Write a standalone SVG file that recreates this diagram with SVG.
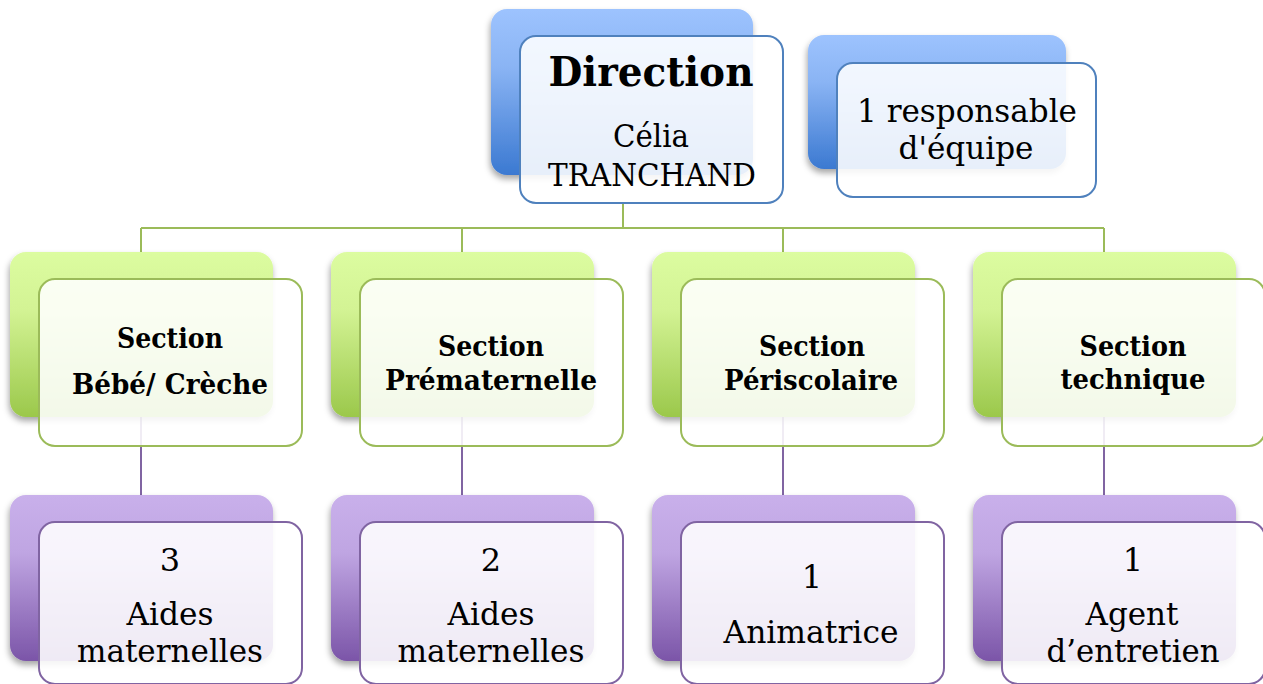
<svg xmlns="http://www.w3.org/2000/svg" width="1263" height="684" viewBox="0 0 1263 684">
<defs>
<linearGradient id="gBlue" x1="0" y1="0" x2="0" y2="1"><stop offset="0" stop-color="#9dc3fe"/><stop offset="0.35" stop-color="#8ab4f4"/><stop offset="1" stop-color="#3b79d1"/></linearGradient>
<linearGradient id="gGreen" x1="0" y1="0" x2="0" y2="1"><stop offset="0" stop-color="#dcfca0"/><stop offset="0.35" stop-color="#d3f394"/><stop offset="1" stop-color="#9bc84b"/></linearGradient>
<linearGradient id="gPurple" x1="0" y1="0" x2="0" y2="1"><stop offset="0" stop-color="#c9b0eb"/><stop offset="0.35" stop-color="#bfa5e2"/><stop offset="1" stop-color="#7b55a8"/></linearGradient>
<filter id="sh" x="-10%" y="-10%" width="125%" height="130%"><feDropShadow dx="-1" dy="4" stdDeviation="3" flood-color="#000" flood-opacity="0.35"/></filter>
<style>
.back{filter:url(#sh)}
.front{fill:#ffffff;fill-opacity:0.88;stroke-width:2}
.fb{stroke:#4f81bd}
.fg{stroke:#9bbb59}
.fp{stroke:#8064a2}
.t{font-family:"DejaVu Serif","Liberation Serif",serif;font-size:32px;fill:#000;text-anchor:middle}
.b{font-family:"DejaVu Serif","Liberation Serif",serif;font-weight:bold;font-size:28px;fill:#000;text-anchor:middle}
.h{font-family:"DejaVu Serif","Liberation Serif",serif;font-weight:bold;font-size:41px;fill:#000;text-anchor:middle}
.cg{stroke:#9bbb59;stroke-width:2;fill:none}
.cp{stroke:#8064a2;stroke-width:2;fill:none}
</style>
</defs>
<g id="connectors">
<path class="cg" d="M623 203V228M141 228H1104M141 228V252M462 228V252M783 228V252M1104 228V252"/>
<path class="cp" d="M141 417V495M462 417V495M783 417V495M1104 417V495"/>
</g>
<g id="direction">
<rect class="back" x="491" y="9" width="262" height="166" rx="16" fill="url(#gBlue)"/>
<rect class="front fb" x="520" y="36" width="263" height="167" rx="16"/>
<text class="h" x="651" y="86" textLength="205" lengthAdjust="spacingAndGlyphs">Direction</text>
<text class="t" x="651" y="147" textLength="76" lengthAdjust="spacingAndGlyphs">Célia</text>
<text class="t" x="652" y="186" textLength="208" lengthAdjust="spacingAndGlyphs">TRANCHAND</text>
</g>
<g id="responsable">
<rect class="back" x="808" y="35" width="258" height="134" rx="16" fill="url(#gBlue)"/>
<rect class="front fb" x="837" y="63" width="259" height="134" rx="16"/>
<text class="t" x="967" y="122" textLength="220" lengthAdjust="spacingAndGlyphs">1 responsable</text>
<text class="t" x="966" y="159" textLength="135" lengthAdjust="spacingAndGlyphs">d'équipe</text>
</g>
<g id="section-bebe">
<rect class="back" x="10" y="252" width="263" height="165" rx="16" fill="url(#gGreen)"/>
<rect class="front fg" x="39" y="279" width="263" height="167" rx="16"/>
<text class="b" x="170" y="348" textLength="106" lengthAdjust="spacingAndGlyphs">Section</text>
<text class="b" x="170" y="394" textLength="196" lengthAdjust="spacingAndGlyphs">Bébé/ Crèche</text>
</g>
<g id="section-prematernelle">
<rect class="back" x="331" y="252" width="263" height="165" rx="16" fill="url(#gGreen)"/>
<rect class="front fg" x="360" y="279" width="263" height="167" rx="16"/>
<text class="b" x="491" y="356" textLength="106" lengthAdjust="spacingAndGlyphs">Section</text>
<text class="b" x="491" y="390" textLength="212" lengthAdjust="spacingAndGlyphs">Prématernelle</text>
</g>
<g id="section-periscolaire">
<rect class="back" x="652" y="252" width="263" height="165" rx="16" fill="url(#gGreen)"/>
<rect class="front fg" x="681" y="279" width="263" height="167" rx="16"/>
<text class="b" x="812" y="356" textLength="106" lengthAdjust="spacingAndGlyphs">Section</text>
<text class="b" x="811" y="390" textLength="174" lengthAdjust="spacingAndGlyphs">Périscolaire</text>
</g>
<g id="section-technique">
<rect class="back" x="973" y="252" width="263" height="165" rx="16" fill="url(#gGreen)"/>
<rect class="front fg" x="1002" y="279" width="263" height="167" rx="16"/>
<text class="b" x="1133" y="356" textLength="107" lengthAdjust="spacingAndGlyphs">Section</text>
<text class="b" x="1133" y="389" textLength="145" lengthAdjust="spacingAndGlyphs">technique</text>
</g>
<g id="aides-bebe">
<rect class="back" x="10" y="495" width="263" height="166" rx="16" fill="url(#gPurple)"/>
<rect class="front fp" x="39" y="522" width="263" height="162" rx="16"/>
<text class="t" x="170" y="571">3</text>
<text class="t" x="170" y="625" textLength="87" lengthAdjust="spacingAndGlyphs">Aides</text>
<text class="t" x="170" y="662" textLength="186" lengthAdjust="spacingAndGlyphs">maternelles</text>
</g>
<g id="aides-prematernelle">
<rect class="back" x="331" y="495" width="263" height="166" rx="16" fill="url(#gPurple)"/>
<rect class="front fp" x="360" y="522" width="263" height="162" rx="16"/>
<text class="t" x="491" y="571">2</text>
<text class="t" x="491" y="625" textLength="87" lengthAdjust="spacingAndGlyphs">Aides</text>
<text class="t" x="491" y="662" textLength="187" lengthAdjust="spacingAndGlyphs">maternelles</text>
</g>
<g id="animatrice">
<rect class="back" x="652" y="495" width="263" height="166" rx="16" fill="url(#gPurple)"/>
<rect class="front fp" x="681" y="522" width="263" height="162" rx="16"/>
<text class="t" x="812" y="588">1</text>
<text class="t" x="811" y="643" textLength="175" lengthAdjust="spacingAndGlyphs">Animatrice</text>
</g>
<g id="agent">
<rect class="back" x="973" y="495" width="263" height="166" rx="16" fill="url(#gPurple)"/>
<rect class="front fp" x="1002" y="522" width="263" height="162" rx="16"/>
<text class="t" x="1133" y="571">1</text>
<text class="t" x="1132" y="625" textLength="93" lengthAdjust="spacingAndGlyphs">Agent</text>
<text class="t" x="1133" y="662" textLength="173" lengthAdjust="spacingAndGlyphs">d’entretien</text>
</g>
</svg>
